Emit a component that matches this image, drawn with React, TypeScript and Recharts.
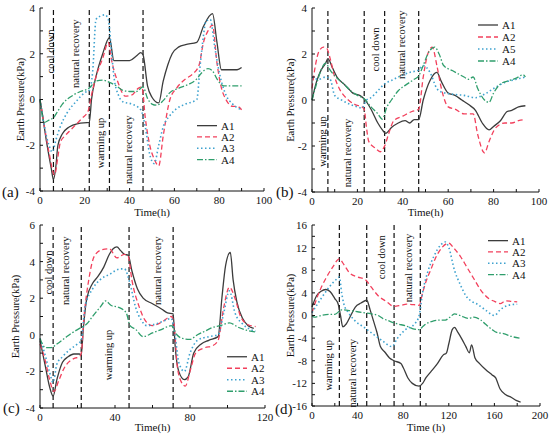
import React from 'react';
import { LineChart, Line, XAxis, YAxis, ReferenceLine, ReferenceDot, Legend } from 'recharts';

type Pt = [number, number];

// ---- panel (a) ----
const A_A1: Pt[] = [[0,0],[1,-0.6],[3,-1.9],[5,-3.0],[6,-3.5],[7,-3.0],[8,-2.0],[10,-1.5],[13,-1.2],[17,-1.05],[22,-1.0],[23,0],[25,1.0],[28,2.0],[31,2.7],[33,1.7],[36,1.7],[40,1.7],[43,1.9],[45,2.05],[46,1.95],[48,0.6],[50,0.1],[53,-0.15],[55,0.8],[57,1.5],[59,2.0],[62,2.3],[65,2.4],[70,2.5],[73,3.2],[77,3.75],[79,2.5],[81,1.3],[88,1.3],[90,1.4]];
const A_A2: Pt[] = [[0,0],[2,-1.2],[4,-2.3],[6.5,-3.3],[8,-2.5],[9,-1.9],[11,-1.6],[13,-1.4],[16,-1.1],[19,-0.8],[21.5,-0.5],[23,0.2],[25,1.0],[28,1.8],[30.5,2.5],[32,1.7],[35,0.7],[38,0.15],[41,0.2],[44,0.5],[45.5,0.55],[47,-0.8],[49,-2.0],[51,-2.6],[53,-2.9],[55,-1.6],[58,0],[61,0.5],[65,0.9],[68,1.1],[71,1.5],[73,2.5],[75,3.0],[77,3.25],[79,1.6],[81,0.5],[83,0],[86,-0.3],[88,-0.3],[90,-0.45]];
const A_A3: Pt[] = [[0,0],[2,-1.2],[4,-2.0],[5.5,-2.3],[7,-1.8],[9,-1.2],[12,-0.6],[16,-0.1],[20,0.3],[22,0.4],[23.5,1.2],[25,3.5],[27,3.65],[29,3.7],[30.5,3.5],[32,2.0],[33,1.0],[35,0.2],[37,-0.1],[41,-0.2],[45,-0.45],[47,-1.2],[49,-2.4],[51,-2.8],[53,-2.0],[55,-1.2],[58,-0.7],[61,-0.4],[65,-0.2],[70,0],[71.5,1.5],[73,2.8],[74,3.4],[76,3.5],[78,2.3],[80,1.2],[83,0.2],[86,-0.2],[90,-0.45]];
const A_A4: Pt[] = [[0,0],[1,-0.7],[2,-1.0],[4,-0.9],[6,-0.8],[8,-0.5],[10,-0.2],[12,0],[15,0.2],[18,0.35],[22,0.5],[25,0.8],[28,0.85],[31,0.75],[34,0.6],[37,0.4],[40,0.35],[43,0.35],[46,0.55],[48,0.05],[50,-0.2],[52,-0.25],[55,-0.05],[58,0.3],[62,0.5],[66,0.65],[70,0.9],[72,1.15],[75,1.35],[77,1.25],[79,0.9],[82,0.6],[86,0.6],[90,0.6]];

// ---- panel (b) ----
const B_A1: Pt[] = [[0,0],[2,0.8],[4,1.3],[6,1.6],[7,1.8],[9,1.4],[11,1.0],[14,0.7],[16,0.5],[18,0.3],[21,0.2],[23,0.05],[26,-0.4],[29,-1.0],[31,-1.3],[32.5,-1.45],[35,-1.2],[38,-1.0],[41,-0.9],[43,-1.0],[45,-0.85],[47,-0.85],[49,0],[52,0.85],[55,1.2],[57,0.8],[60,0.3],[63,0.2],[66,0],[69,-0.2],[72,-0.45],[75,-1.0],[78,-1.3],[80,-1.15],[83,-0.9],[86,-0.5],[88,-0.45],[91,-0.3],[94,-0.25]];
const B_A2: Pt[] = [[0,0.5],[1.5,1.5],[3,2.1],[5,2.3],[6.5,2.25],[8,1.8],[10,1.0],[12,0.5],[14,0.2],[16,0],[19,-0.2],[22,-0.3],[23,-0.4],[24,-1.2],[25,-1.8],[28,-2.1],[30,-2.25],[32,-2.0],[34,-1.4],[36,-0.9],[40,-0.7],[44,-0.5],[47,-0.4],[49,1.0],[51,2.0],[53,2.3],[55,1.5],[57,0.5],[60,-0.3],[63,-0.4],[67,-0.6],[71,-0.6],[73,-1.5],[76,-2.3],[78,-1.8],[81,-1.2],[85,-1.0],[88,-1.0],[91,-0.9],[94,-0.85]];
const B_A5: Pt[] = [[0,1.0],[3,0.9],[6,1.0],[8,0.9],[10,0.2],[13,0],[17,-0.2],[20,-0.3],[22,-0.35],[24,0],[26,0.1],[29,0.4],[32,0.7],[35,0.85],[38,1.0],[43,1.2],[47,1.3],[49,1.5],[52,1.2],[55,0.5],[57,0.35],[62,0.25],[67,0.2],[72,0.1],[76,0.25],[80,0.5],[86,0.8],[90,0.9],[94,1.0]];
const B_A4: Pt[] = [[0,0],[2,0.7],[4,1.3],[6,1.6],[8,1.3],[11,0.95],[14,0.7],[17,0.4],[20,0.2],[23,0.05],[26,-0.3],[29,-0.6],[31,-0.83],[33,-0.3],[35,0],[38,0.4],[42,0.7],[45,0.9],[47,1.05],[49,1.5],[51,2.0],[54,2.3],[56,2.0],[58,1.5],[62,1.27],[67,1.0],[69,0.9],[71,1.0],[73,0.5],[76,0],[78,-0.1],[80,0.3],[83,0.7],[87,0.85],[90,0.95],[93,1.1],[94,1.0]];

// ---- panel (c) ----
const C_A1: Pt[] = [[0,-0.3],[3,-1.8],[5,-2.8],[7,-3.35],[9,-2.45],[12,-1.5],[15,-1.2],[18,-1.05],[21,-1.05],[22,-1.1],[23,0.2],[25,2.0],[28,2.8],[31,3.2],[34,3.7],[37,4.4],[39,4.7],[41,4.8],[43,4.6],[45,4.4],[47,4.35],[49,3.5],[52,2.5],[55,2.0],[60,1.7],[65,1.4],[68,1.2],[71,1.15],[72,-0.5],[74,-2.0],[77,-2.45],[79,-2.3],[82,-1.0],[86,-0.5],[90,-0.3],[95,-0.1],[97,2.0],[99,3.8],[101.5,4.5],[103,3.0],[105,1.8],[108,0.9],[111,0.5],[114,0.35]];
const C_A2: Pt[] = [[0,-0.5],[3,-1.5],[5,-2.4],[7.5,-3.1],[10,-2.5],[13,-1.8],[18,-1.3],[21,-1.2],[22,-1.0],[23.5,1.0],[26,3.0],[29,4.3],[33,4.65],[37,4.7],[41,4.2],[45,4.4],[47,4.3],[49,3.0],[53,1.5],[56,0.8],[60,0.5],[65,0.7],[70,1.0],[71.5,0.6],[73,-1.5],[75,-2.5],[77.5,-2.8],[80,-2.0],[83,-1.0],[88,-0.7],[92,-0.6],[95,-0.3],[98,1.5],[101,2.6],[104,2.0],[107,1.0],[111,0.55],[115,0.45]];
const C_A3: Pt[] = [[0,-0.2],[3,-1.2],[5,-2.0],[7,-2.6],[9,-1.6],[12,-1.2],[16,-0.8],[20,-0.5],[22,-0.3],[24,1.5],[28,2.5],[32,3.0],[37,3.3],[43,3.6],[45,3.6],[48,2.8],[51,1.5],[54,0.8],[57,0.5],[62,0.6],[67,0.8],[70,0.9],[72,0],[74,-1.5],[77,-2.0],[80,-1.0],[84,-0.3],[90,-0.1],[95,0],[98,1.2],[101,2.4],[104,1.2],[108,0.6],[112,0.3],[115,0.2]];
const C_A4: Pt[] = [[0,-0.2],[3,-0.7],[6,-0.7],[9,-0.5],[13,-0.2],[17,0.1],[22,0.4],[25,0.6],[28,1.0],[32,1.5],[35,1.85],[38,1.6],[42,1.5],[46,1.2],[48,0.5],[51,0.3],[55,-0.1],[60,0.1],[65,0.3],[70,0.5],[73,0],[76,-0.2],[80,-0.25],[84,0],[88,0.2],[92,0.4],[96,0.5],[101,0.65],[106,0.4],[110,0.25],[115,0.15]];

// ---- panel (d) ----
const D_A1: Pt[] = [[0,1.5],[4,3.5],[8,4.3],[12,4.6],[16,4.2],[20,3.0],[23,2.0],[25,0],[27,-2.0],[30,-1.5],[34,0],[38,1.5],[43,2.2],[48,2.7],[51,1.0],[54,-1.0],[57,-3.0],[60,-5.5],[64,-6.5],[68,-7.5],[72,-8.0],[78,-8.5],[80,-9.2],[84,-11],[88,-12],[94,-12.5],[97,-12],[100,-11],[104,-10],[110,-8.5],[115,-7],[118,-6.6],[120,-5],[123,-2.5],[125,-2.1],[128,-3],[131,-4],[135,-5.5],[138,-6.6],[140,-5.2],[143,-7.5],[147,-8.5],[152,-9.5],[158,-10.5],[161,-11],[165,-13],[170,-14],[175,-14.5],[179,-15],[183,-15.3]];
const D_A2: Pt[] = [[0,0.5],[6,4],[12,6.5],[18,8.5],[24,10],[28,9],[33,7.5],[40,6.8],[47,6.3],[52,5],[58,3.5],[65,2.5],[72,1.6],[78,1.8],[83,2],[90,1.9],[94,1.8],[97,4],[100,6],[104,8],[108,10],[114,12],[120,12.8],[124,12],[130,10.5],[136,8.5],[142,6.5],[148,4.5],[155,3],[160,2.5],[165,2.1],[170,2.6],[175,2.5],[180,2.4]];
const D_A3: Pt[] = [[0,0.5],[8,3],[15,5],[22,6.5],[24,6.8],[26,4],[28,2],[32,0.5],[38,-1],[45,-2],[55,-3.5],[62,-4.5],[70,-5.5],[75,-4],[82,-2.5],[90,-1.5],[94,0],[97,4],[102,8],[107,10.5],[113,12.5],[117,13],[120,12],[125,8],[130,5.5],[135,3.5],[140,2.5],[145,2],[152,1],[160,0],[165,1],[172,1.8],[180,2]];
const D_A4: Pt[] = [[0,0],[2,-0.3],[8,0],[15,0.2],[20,0.2],[26,1.0],[35,0.8],[45,0.5],[52,0.3],[58,0],[62,-0.5],[68,-1],[75,-1.5],[82,-1.8],[88,-2.3],[94,-2.5],[97,-2],[100,-1.5],[106,-1],[112,-0.8],[117,-0.8],[121,-0.3],[125,0.3],[130,0],[137,-0.5],[142,-0.3],[148,-0.8],[152,-1.5],[158,-2.5],[162,-3],[168,-3.2],[175,-3.7],[182,-4]];

const NAMES_STD = ['A1', 'A2', 'A3', 'A4'];
const NAMES_B = ['A1', 'A2', 'A5', 'A4'];

const VLINES_A = [6, 22, 31, 46];
const VLINES_B = [7, 23, 32, 47];
const VLINES_C = [7, 22, 47.5, 71];
const VLINES_D = [24, 48, 72, 95];

const NOTES_A = [
  { x: 4.5, y: 2.1, text: 'cool down' },
  { x: 15.6, y: 2.0, text: 'natural recovery' },
  { x: 26.8, y: -1.9, text: 'warming up' },
  { x: 39.5, y: -2.2, text: 'natural recovery' },
];
const NOTES_B = [
  { x: 4.4, y: -1.8, text: 'warming up' },
  { x: 15.4, y: -2.3, text: 'natural recovery' },
  { x: 27.8, y: 2.2, text: 'cool down' },
  { x: 39.2, y: 2.4, text: 'natural recovery' },
];
const NOTES_C = [
  { x: 4.3, y: 3.4, text: 'cool down' },
  { x: 13.3, y: 3.5, text: 'natural recovery' },
  { x: 36.3, y: -1.1, text: 'warming up' },
  { x: 62.4, y: 3.5, text: 'natural recovery' },
];
const NOTES_D = [
  { x: 14, y: -8.8, text: 'warming up' },
  { x: 35, y: -10.2, text: 'natural recovery' },
  { x: 60.5, y: 10.3, text: 'cool down' },
  { x: 84.2, y: 8.4, text: 'natural recovery' },
];

const TICKS_X100 = [0, 10, 20, 30, 40, 50, 60, 70, 80, 90, 100];
const MAJOR_X100 = [0, 20, 40, 60, 80, 100];
const TICKS_X120 = [0, 20, 40, 60, 80, 100, 120];
const MAJOR_X120 = [0, 40, 80, 120];
const TICKS_X200 = [0, 20, 40, 60, 80, 100, 120, 140, 160, 180, 200];
const MAJOR_X200 = [0, 40, 80, 120, 160, 200];
const TICKS_Y4 = [-4, -3, -2, -1, 0, 1, 2, 3, 4];
const MAJOR_Y4 = [-4, -2, 0, 2, 4];
const TICKS_Y6 = [-4, -3, -2, -1, 0, 1, 2, 3, 4, 5, 6];
const MAJOR_Y6 = [-4, -2, 0, 2, 4, 6];
const TICKS_Y16 = [-16, -14, -12, -10, -8, -6, -4, -2, 0, 2, 4, 6, 8, 10, 12, 14, 16];
const MAJOR_Y16 = [-16, -12, -8, -4, 0, 4, 8, 12, 16];

const STYLES = [
  { color: '#3c3c3c', dash: undefined as string | undefined, width: 1.3 },
  { color: '#f2405c', dash: '5 3', width: 1.3 },
  { color: '#3ea2cf', dash: '1.5 2.5', width: 1.6 },
  { color: '#2f9e6c', dash: '6 2 1.5 2', width: 1.3 },
];

const FONT = '"Liberation Serif", "Times New Roman", serif';

const toRows = (pts: Pt[]) => pts.map(([t, v]) => ({ t, v }));

type PanelProps = {
  left: number; top: number; tag: string; tagLeft: number; tagTop: number;
  margin: { top: number; right: number; left: number; bottom: number };
  yWidth: number; xHeight: number;
  xDomain: [number, number]; xTicks: number[]; xMajor: number[];
  yDomain: [number, number]; yTicks: number[]; yMajor: number[];
  series: Pt[][]; names: string[]; vlines: number[];
  notes: { x: number; y: number; text: string }[];
  legendX: number; legendY: number; legendStep: number;
  yLabelOffset: number; xLabel: string; xLabelOffset: number;
};

const Panel = (p: PanelProps) => {
  const legendContent = () => (
    <svg width={50} height={p.legendStep * p.names.length} style={{ display: 'block' }}>
      {p.names.map((n, i) => {
        const cy = p.legendStep * i + p.legendStep / 2;
        const s = STYLES[i];
        return (
          <g key={n}>
            <line x1={0} x2={20} y1={cy} y2={cy} stroke={s.color} strokeWidth={s.width} strokeDasharray={s.dash} />
            <text x={24} y={cy + 4} fontSize={11} fill="#111" fontFamily={FONT}>{n}</text>
          </g>
        );
      })}
    </svg>
  );

  return (
    <div style={{ position: 'absolute', left: p.left, top: p.top, width: 275, height: 218 }}>
      <LineChart width={275} height={218} margin={p.margin}>
        <XAxis
          type="number"
          dataKey="t"
          domain={p.xDomain}
          ticks={p.xTicks}
          interval={0}
          tickFormatter={(v) => (p.xMajor.includes(v) ? String(v) : '')}
          height={p.xHeight}
          stroke="#111"
          tickSize={-3}
          tickMargin={8}
          tick={{ fill: '#111', fontSize: 11, fontFamily: FONT }}
          label={{ value: p.xLabel, position: 'insideBottom', offset: p.xLabelOffset, fontSize: 11, fill: '#111' }}
        />
        <YAxis
          type="number"
          domain={p.yDomain}
          ticks={p.yTicks}
          interval={0}
          tickFormatter={(v) => (p.yMajor.includes(v) ? String(v) : '')}
          width={p.yWidth}
          stroke="#111"
          tickSize={-3}
          tickMargin={8}
          tick={{ fill: '#111', fontSize: 11, fontFamily: FONT }}
          label={{ value: 'Earth Pressure(kPa)', angle: -90, position: 'insideLeft', offset: p.yLabelOffset, fontSize: 10.5, fill: '#111', style: { textAnchor: 'middle' } }}
        />
        {p.vlines.map((x) => (
          <ReferenceLine key={`v${x}`} x={x} stroke="#111" strokeWidth={1.2} strokeDasharray="5 3" />
        ))}
        {p.notes.map((n) => (
          <ReferenceDot
            key={`${n.text}${n.x}`}
            x={n.x}
            y={n.y}
            r={0}
            fill="none"
            stroke="none"
            label={{ value: n.text, angle: -90, position: 'center', fontSize: 10.5, fill: '#111' }}
          />
        ))}
        {p.series.map((pts, i) => (
          <Line
            key={p.names[i]}
            data={toRows(pts)}
            dataKey="v"
            name={p.names[i]}
            type="monotone"
            stroke={STYLES[i].color}
            strokeWidth={STYLES[i].width}
            strokeDasharray={STYLES[i].dash}
            dot={false}
            isAnimationActive={false}
          />
        ))}
        <Legend
          layout="vertical"
          align="center"
          verticalAlign="middle"
          content={legendContent}
          wrapperStyle={{ left: p.legendX, top: p.legendY - p.legendStep / 2, width: 50 }}
        />
      </LineChart>
      <div style={{ position: 'absolute', left: p.tagLeft, top: p.tagTop - 9, fontSize: 15, lineHeight: '18px', color: '#111' }}>
        {p.tag}
      </div>
    </div>
  );
};

export default function App() {
  return (
    <div style={{ position: 'absolute', left: 0, top: 0, width: 550, height: 437, background: '#fff', fontFamily: FONT }}>
      <Panel
        left={0} top={0} tag="(a)" tagLeft={2} tagTop={192}
        margin={{ top: 8, right: 11, left: 0, bottom: 0 }} yWidth={40} xHeight={27}
        xDomain={[0, 100]} xTicks={TICKS_X100} xMajor={MAJOR_X100}
        yDomain={[-4, 4]} yTicks={TICKS_Y4} yMajor={MAJOR_Y4}
        series={[A_A1, A_A2, A_A3, A_A4]} names={NAMES_STD} vlines={VLINES_A} notes={NOTES_A}
        legendX={197} legendY={126} legendStep={11.3}
        yLabelOffset={20} xLabel="Time(h)" xLabelOffset={2}
      />
      <Panel
        left={275} top={0} tag="(b)" tagLeft={1} tagTop={192}
        margin={{ top: 8, right: 11, left: 0, bottom: 0 }} yWidth={37} xHeight={26}
        xDomain={[0, 100]} xTicks={TICKS_X100} xMajor={MAJOR_X100}
        yDomain={[-4, 4]} yTicks={TICKS_Y4} yMajor={MAJOR_Y4}
        series={[B_A1, B_A2, B_A5, B_A4]} names={NAMES_B} vlines={VLINES_B} notes={NOTES_B}
        legendX={203} legendY={25} legendStep={12}
        yLabelOffset={15} xLabel="Time(h)" xLabelOffset={2}
      />
      <Panel
        left={0} top={218} tag="(c)" tagLeft={3} tagTop={190}
        margin={{ top: 7, right: 10, left: 0, bottom: 0 }} yWidth={40} xHeight={28}
        xDomain={[0, 120]} xTicks={TICKS_X120} xMajor={MAJOR_X120}
        yDomain={[-4, 6]} yTicks={TICKS_Y6} yMajor={MAJOR_Y6}
        series={[C_A1, C_A2, C_A3, C_A4]} names={NAMES_STD} vlines={VLINES_C} notes={NOTES_C}
        legendX={227} legendY={139} legendStep={11.5}
        yLabelOffset={15} xLabel="Time(h)" xLabelOffset={5}
      />
      <Panel
        left={275} top={218} tag="(d)" tagLeft={0} tagTop={191}
        margin={{ top: 7, right: 10, left: 0, bottom: 0 }} yWidth={37} xHeight={30}
        xDomain={[0, 200]} xTicks={TICKS_X200} xMajor={MAJOR_X200}
        yDomain={[-16, 16]} yTicks={TICKS_Y16} yMajor={MAJOR_Y16}
        series={[D_A1, D_A2, D_A3, D_A4]} names={NAMES_STD} vlines={VLINES_D} notes={NOTES_D}
        legendX={213} legendY={23} legendStep={11.3}
        yLabelOffset={15} xLabel="Time (h)" xLabelOffset={5}
      />
    </div>
  );
}
